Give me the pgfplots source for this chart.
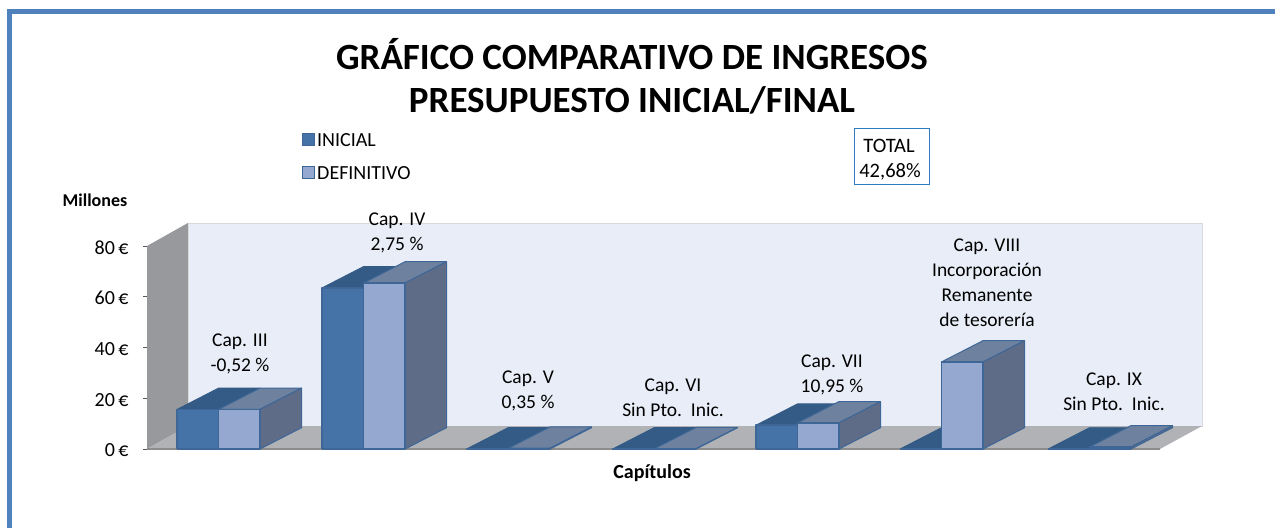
\documentclass[border=0pt]{standalone}
\usepackage{pgfplots}
\pgfplotsset{compat=1.18}
\usepackage{fontspec}
\setmainfont{Carlito}
\definecolor{frameblue}{HTML}{4F81BD}
\definecolor{boxblue}{HTML}{2F7BC0}
\definecolor{edgeblue}{HTML}{3E6797}
\definecolor{ini}{HTML}{4572A7}
\definecolor{def}{HTML}{95A9D0}
\definecolor{initop}{HTML}{335B85}
\definecolor{deftop}{HTML}{6E829F}
\definecolor{defside}{HTML}{5E6C88}
\definecolor{wallL}{HTML}{97999D}
\definecolor{floorc}{HTML}{B0B2B5}
\definecolor{wallB}{HTML}{E9EDF7}
% x in pixels of the picture, y in euros (millions)
\newcommand\pairbar[3]{% left x, INICIAL, DEFINITIVO
  \pgfmathsetmacro\xa{#1}\pgfmathsetmacro\xb{#1+41.5}\pgfmathsetmacro\xc{#1+83}
  \pgfmathsetmacro\xd{#1+124.5}
  \pgfmathsetmacro\yi{#2}\pgfmathsetmacro\yj{#2+8.4}
  \pgfmathsetmacro\yd{#3}\pgfmathsetmacro\ye{#3+8.4}
  \addplot[fill=initop,draw=initop,line width=.8pt] coordinates {(\xa,\yi) (\xb,\yi) (\xc,\yj) (\xb,\yj) (\xa,\yi)};
  \addplot[fill=deftop,draw=edgeblue,line width=1pt] coordinates {(\xb,\yd) (\xc,\yd) (\xd,\ye) (\xc,\ye) (\xb,\yd)};
  \addplot[fill=defside,draw=edgeblue,line width=1pt] coordinates {(\xc,0) (\xd,8.4) (\xd,\ye) (\xc,\yd) (\xc,0)};
  \addplot[fill=ini,draw=edgeblue,line width=1.4pt] coordinates {(\xa,0) (\xb,0) (\xb,\yi) (\xa,\yi) (\xa,0)};
  \addplot[fill=def,draw=edgeblue,line width=1.4pt] coordinates {(\xb,0) (\xc,0) (\xc,\yd) (\xb,\yd) (\xb,0)};
}
\begin{document}
\begin{tikzpicture}[x=1pt,y=1pt]
\path[use as bounding box] (0,0) rectangle (1275,528);
% plot: x in pixels, y in euros
\begin{axis}[at={(147pt,79pt)},anchor=origin,scale only axis,width=1013pt,height=203pt,
  xmin=147,xmax=1160,ymin=0,ymax=80,clip=false,
  axis y line*=left,axis x line*=bottom,xtick=\empty,
  x axis line style={draw=none},
  y axis line style={draw=gray!70!black,line width=1pt},
  ytick={0,20,40,60,80},
  yticklabel={\pgfmathprintnumber{\tick}\,€},
  /pgf/number format/assume math mode=true,
  tick style={draw=gray!70!black,line width=1pt},
  tick align=outside,major tick length=4pt,
  yticklabel style={font=\fontsize{20}{20}\selectfont,xshift=-11pt,yshift=-1.5pt},
  every axis plot/.append style={line join=round}]
\addplot[fill=wallL,draw=none] coordinates {(147,0) (188,9.06) (188,89.1) (147,80) (147,0)};
\addplot[fill=wallB,draw=black!15,line width=.8pt] coordinates {(188,9.06) (1202,9.06) (1202,89.1) (188,89.1) (188,9.06)};
\addplot[fill=floorc,draw=none] coordinates {(147,0) (1160,0) (1202,9.06) (188,9.06) (147,0)};
\addplot[draw=black!45,line width=1.2pt] coordinates {(147,0) (1160,0)};
\pairbar{177}{15.6}{15.6}
\pairbar{322}{63.5}{65.4}
\pairbar{467}{0.1}{0.3}
\pairbar{613}{0.1}{0.1}
\pairbar{756}{9.4}{10.3}
\pairbar{900}{0}{34.3}
\pairbar{1048}{0}{0.8}
\tikzset{lab/.style={font=\fontsize{19.5}{25}\selectfont,align=center,anchor=center,inner sep=0pt}}
\node[lab] at (axis cs:240,37.4) {Cap. III\\-0,52 \%};
\node[lab] at (axis cs:397,85) {Cap. IV\\2,75 \%};
\node[lab] at (axis cs:528,22.9) {Cap. V\\0,35 \%};
\node[lab] at (axis cs:673,20.3) {Cap. VI\\Sin Pto.\ \ Inic.};
\node[lab] at (axis cs:832,29.3) {Cap. VII\\10,95 \%};
\node[lab] at (axis cs:987,65.6) {Cap. VIII\\Incorporación\\Remanente\\de tesorería};
\node[lab] at (axis cs:1114,22.7) {Cap. IX\\Sin Pto.\ \ Inic.};
\end{axis}
% page frame and free texts, picture pixels
\begin{axis}[at={(0,0)},anchor=south west,scale only axis,width=1275pt,height=528pt,
  xmin=0,xmax=1275,ymin=0,ymax=528,hide axis,clip=false]
\addplot[frameblue,line width=5pt,line cap=butt] coordinates {(9,0) (9,516.5) (1275,516.5)};
\node[font=\bfseries\fontsize{37}{37}\selectfont] at (axis cs:632,473.5) {GRÁFICO COMPARATIVO DE INGRESOS};
\node[font=\bfseries\fontsize{37}{37}\selectfont] at (axis cs:632,428) {PRESUPUESTO INICIAL/FINAL};
\addplot[fill=ini,draw=edgeblue,line width=1pt] coordinates {(302,382) (314,382) (314,394) (302,394) (302,382)};
\addplot[fill=def,draw=edgeblue,line width=1pt] coordinates {(302,349) (314,349) (314,361) (302,361) (302,349)};
\node[anchor=west,inner sep=0pt,font=\fontsize{20}{20}\selectfont] at (axis cs:317,388) {INICIAL};
\node[anchor=west,inner sep=0pt,font=\fontsize{20}{20}\selectfont] at (axis cs:317,355) {DEFINITIVO};
\addplot[draw=boxblue,line width=1pt] coordinates {(854,343) (929,343) (929,399) (854,399) (854,343)};
\node[font=\fontsize{20.5}{20.5}\selectfont] at (axis cs:889,382) {TOTAL};
\node[font=\fontsize{20.5}{20.5}\selectfont] at (axis cs:890,356) {42,68\%};
\node[font=\bfseries\fontsize{18}{18}\selectfont] at (axis cs:95,328) {Millones};
\node[font=\bfseries\fontsize{20}{20}\selectfont] at (axis cs:652,55) {Capítulos};
\end{axis}
\end{tikzpicture}
\end{document}
